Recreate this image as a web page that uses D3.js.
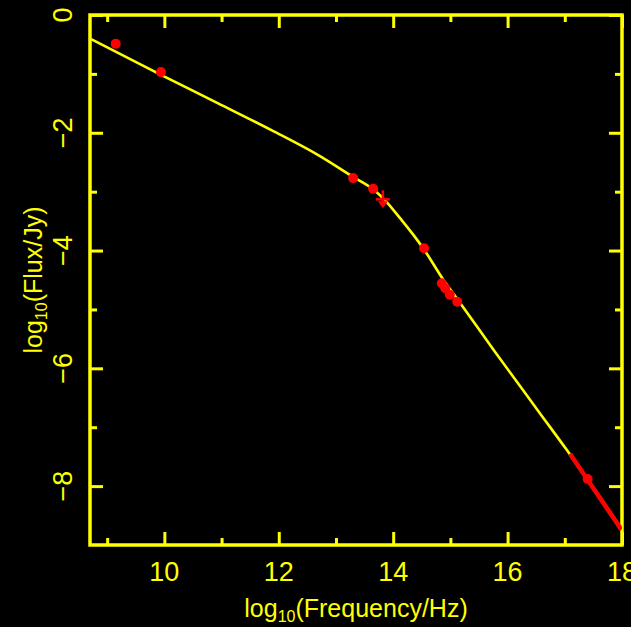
<!DOCTYPE html>
<html>
<head>
<meta charset="utf-8">
<script src="https://cdn.jsdelivr.net/npm/d3@7"></script>
<style>
  html, body { margin: 0; padding: 0; background: #000; }
  svg { display: block; }
</style>
</head>
<body>
<svg id="chart" width="631" height="627"></svg>
<script>
// Broadband spectral energy distribution: model curve, photometric points,
// one upper limit and an X-ray spectrum band.

// Model curve (log frequency, log flux)
const modelFreq = [8.72, 9.95, 10.94, 11.88, 12.69, 13.30, 13.65, 13.89, 14.12, 14.35, 14.53, 14.88, 15.17, 15.75, 16.57, 17.03, 17.38, 17.99];
const modelFlux = [-0.41, -1.02, -1.50, -1.96, -2.38, -2.75, -2.96, -3.18, -3.45, -3.73, -3.97, -4.50, -4.89, -5.68, -6.77, -7.38, -7.86, -8.72];

// Measured fluxes
const obsFreq = [9.15, 9.94, 13.30, 13.65, 14.54, 14.85, 14.91, 14.99, 15.12, 17.40];
const obsFlux = [-0.49, -0.97, -2.77, -2.95, -3.96, -4.555, -4.64, -4.75, -4.87, -7.88];

// Upper limit
const limitFreq = [13.82];
const limitFlux = [-3.13];

// X-ray power-law segment
const xrayFreq = [17.09, 17.99];
const xrayFlux = [-7.45, -8.74];

// Axis ticks
const xMajor = [10, 12, 14, 16, 18];
const xMinor = [9, 11, 13, 15, 17];
const yMajor = [0, -2, -4, -6, -8];
const yMinor = [-1, -3, -5, -7];

const YELLOW = "#ffff00";
const RED = "#ff0000";
const FONT = "'Liberation Sans', Arial, Helvetica, sans-serif";

const svg = d3.select("#chart");
svg.append("rect").attr("width", 631).attr("height", 627).attr("fill", "#000");

const pLeft = 90, pRight = 622, pTop = 15, pBottom = 545;
const x = d3.scaleLinear().domain([8.7, 18]).range([pLeft, pRight]);
const y = d3.scaleLinear().domain([-9, 0]).range([pBottom, pTop]);

svg.append("defs").append("clipPath").attr("id", "plot-clip")
  .append("rect").attr("x", pLeft).attr("y", pTop)
  .attr("width", pRight - pLeft).attr("height", pBottom - pTop);

// Ticks on all four sides, pointing inward
function tickAxis(axisFn, scale, values, size, transform) {
  const g = svg.append("g").attr("transform", transform)
    .call(axisFn(scale).tickValues(values).tickSizeInner(-size).tickSizeOuter(0).tickFormat(""));
  g.select(".domain").remove();
  g.selectAll(".tick line").attr("stroke", YELLOW).attr("stroke-width", 3);
  g.selectAll(".tick text").remove();
}
tickAxis(d3.axisBottom, x, xMajor, 13, `translate(0,${pBottom})`);
tickAxis(d3.axisBottom, x, xMinor, 7, `translate(0,${pBottom})`);
tickAxis(d3.axisTop, x, xMajor, 13, `translate(0,${pTop})`);
tickAxis(d3.axisTop, x, xMinor, 7, `translate(0,${pTop})`);
tickAxis(d3.axisLeft, y, yMajor, 13, `translate(${pLeft},0)`);
tickAxis(d3.axisLeft, y, yMinor, 7, `translate(${pLeft},0)`);
tickAxis(d3.axisRight, y, yMajor, 13, `translate(${pRight},0)`);
tickAxis(d3.axisRight, y, yMinor, 7, `translate(${pRight},0)`);

// Frame
svg.append("rect")
  .attr("x", pLeft).attr("y", pTop)
  .attr("width", pRight - pLeft).attr("height", pBottom - pTop)
  .attr("fill", "none").attr("stroke", YELLOW).attr("stroke-width", 3.5);

// Tick labels
const fmt = v => (v < 0 ? "\u2212" + Math.abs(v) : String(v));
svg.append("g").selectAll("text").data(xMajor).join("text")
  .attr("x", d => x(d)).attr("y", 581)
  .attr("text-anchor", "middle")
  .attr("font-family", FONT).attr("font-size", 27).attr("fill", YELLOW)
  .text(fmt);

svg.append("g").selectAll("text").data(yMajor).join("text")
  .attr("transform", d => `translate(72,${y(d)}) rotate(-90)`)
  .attr("text-anchor", "middle")
  .attr("font-family", FONT).attr("font-size", 27).attr("fill", YELLOW)
  .text(fmt);

// Axis titles with subscripted base
const xTitle = svg.append("text")
  .attr("x", (pLeft + pRight) / 2).attr("y", 617)
  .attr("text-anchor", "middle")
  .attr("font-family", FONT).attr("font-size", 25).attr("fill", YELLOW);
xTitle.append("tspan").text("log");
xTitle.append("tspan").attr("font-size", 16).attr("dy", 5).text("10");
xTitle.append("tspan").attr("dy", -5).text("(Frequency/Hz)");

const yTitle = svg.append("text")
  .attr("transform", `translate(42,${(pTop + pBottom) / 2}) rotate(-90)`)
  .attr("text-anchor", "middle")
  .attr("font-family", FONT).attr("font-size", 25).attr("fill", YELLOW);
yTitle.append("tspan").text("log");
yTitle.append("tspan").attr("font-size", 16).attr("dy", 5).text("10");
yTitle.append("tspan").attr("dy", -5).text("(Flux/Jy)");

// Model curve
const plot = svg.append("g").attr("clip-path", "url(#plot-clip)");
const model = modelFreq.map((f, i) => [f, modelFlux[i]]);
plot.append("path")
  .datum(model)
  .attr("d", d3.line().x(d => x(d[0])).y(d => y(d[1])).curve(d3.curveMonotoneX))
  .attr("fill", "none").attr("stroke", YELLOW).attr("stroke-width", 2.6);

// X-ray band
const xray = xrayFreq.map((f, i) => [f, xrayFlux[i]]);
plot.append("path")
  .datum(xray)
  .attr("d", d3.line().x(d => x(d[0])).y(d => y(d[1])))
  .attr("fill", "none").attr("stroke", RED).attr("stroke-width", 4.5);

// Photometric points
plot.append("g").selectAll("circle")
  .data(obsFreq.map((f, i) => [f, obsFlux[i]]))
  .join("circle")
  .attr("cx", d => x(d[0])).attr("cy", d => y(d[1]))
  .attr("r", 5).attr("fill", RED);

// Upper limit: bar with downward arrow
const lim = plot.append("g").selectAll("g")
  .data(limitFreq.map((f, i) => [f, limitFlux[i]]))
  .join("g")
  .attr("transform", d => `translate(${x(d[0])},${y(d[1])})`);
lim.append("line").attr("x1", -7).attr("x2", 7).attr("y1", 0).attr("y2", 0)
  .attr("stroke", RED).attr("stroke-width", 2.5);
lim.append("line").attr("x1", 0).attr("x2", 0).attr("y1", -9).attr("y2", 4)
  .attr("stroke", RED).attr("stroke-width", 2.5);
lim.append("path").attr("d", "M-5,2 L5,2 L0,9 Z").attr("fill", RED);
</script>
</body>
</html>
